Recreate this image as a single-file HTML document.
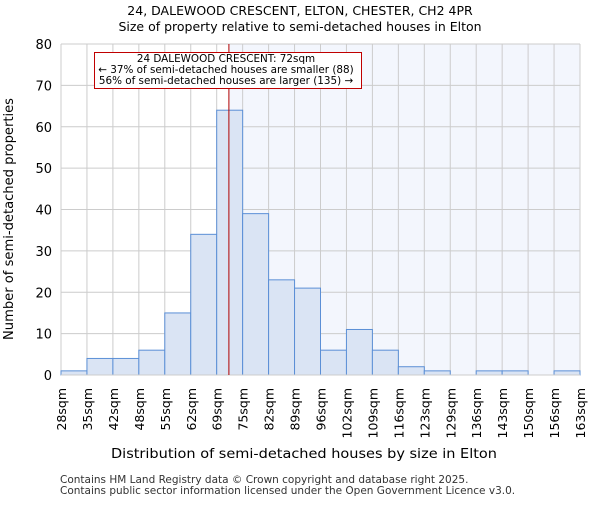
<!DOCTYPE html>
<html><head><meta charset="utf-8"><style>
body{margin:0;background:#fff;}
svg{font-family:"DejaVu Sans","Liberation Sans",sans-serif;}
</style></head><body>
<svg id="c" width="600" height="500" xmlns="http://www.w3.org/2000/svg">
<text x="300" y="15" text-anchor="middle" font-size="12.5">24, DALEWOOD CRESCENT, ELTON, CHESTER, CH2 4PR</text>
<text x="300" y="31" text-anchor="middle" font-size="12.5">Size of property relative to semi-detached houses in Elton</text>
<g id="grid"></g><g id="bars"></g><g id="axes"></g>
<text x="304" y="458" text-anchor="middle" font-size="13.5" textLength="386" lengthAdjust="spacingAndGlyphs">Distribution of semi-detached houses by size in Elton</text>
<text transform="translate(13,219) rotate(-90)" text-anchor="middle" font-size="13" textLength="242" lengthAdjust="spacingAndGlyphs">Number of semi-detached properties</text>
<text x="60" y="483" font-size="10.5" fill="#333">Contains HM Land Registry data © Crown copyright and database right 2025.</text>
<text x="60" y="494" font-size="10.5" fill="#333">Contains public sector information licensed under the Open Government Licence v3.0.</text>
</svg>
<script>
const tickLabels=["28sqm","35sqm","42sqm","48sqm","55sqm","62sqm","69sqm","75sqm","82sqm","89sqm","96sqm","102sqm","109sqm","116sqm","123sqm","129sqm","136sqm","143sqm","150sqm","156sqm","163sqm"];
const counts=[1,4,4,6,15,34,64,39,23,21,6,11,6,2,1,0,1,1,0,1];
const yTicks=[0,10,20,30,40,50,60,70,80];
const markerIndex=6.47;
const NS="http://www.w3.org/2000/svg";
const L=61,R=580,T=44,B=375;
const bw=(R-L)/counts.length;
const x=i=>L+i*bw;
const y=v=>B-(v/80)*(B-T);
function mk(p,tag,a){const e=document.createElementNS(NS,tag);for(const k in a)e.setAttribute(k,a[k]);document.getElementById(p).appendChild(e);return e;}
let r=mk('grid','rect',{x:x(markerIndex),y:T,width:R-x(markerIndex),height:B-T,fill:"#f3f6fd"});


yTicks.forEach(v=>{
 let l=mk('grid','line',{x1:L,x2:R,y1:y(v),y2:y(v),stroke:"#ccc"});
 
 
 let t=mk('axes','text',{x:L-9,y:y(v)+5,"text-anchor":"end","font-size":"13"});
 t.textContent=v;
 
 
});
tickLabels.forEach((s,i)=>{
 let l=mk('grid','line',{x1:x(i),x2:x(i),y1:T,y2:B,stroke:"#ccc"});
 
 
 let t=mk('axes','text',{transform:`translate(${x(i)+5},388) rotate(-90)`,"text-anchor":"end","font-size":"12.5"});
 t.textContent=s;
 
 
});
counts.forEach((v,i)=>{
 if(v<=0)return;
 let b=mk('bars','rect',{x:x(i),y:y(v),width:bw,height:B-y(v),fill:"#dae4f4",stroke:"#5b8fd6","stroke-width":"1"});
 
 
});
let ax=mk('axes','line',{x1:L,x2:R,y1:B,y2:B,stroke:"#ccc"});


let ml=mk('axes','line',{x1:x(markerIndex),x2:x(markerIndex),y1:T,y2:B,stroke:"#b00000","stroke-width":"1"});


let box=mk('axes','rect',{x:94.5,y:52.5,width:267,height:36,fill:"#fff",stroke:"#c00000"});


["24 DALEWOOD CRESCENT: 72sqm","← 37% of semi-detached houses are smaller (88)","56% of semi-detached houses are larger (135) →"].forEach((s,i)=>{
 let t=mk('axes','text',{x:226,y:62+i*11,"text-anchor":"middle","font-size":"10.4"});
 t.textContent=s;
 
 
});
</script>
</body></html>
